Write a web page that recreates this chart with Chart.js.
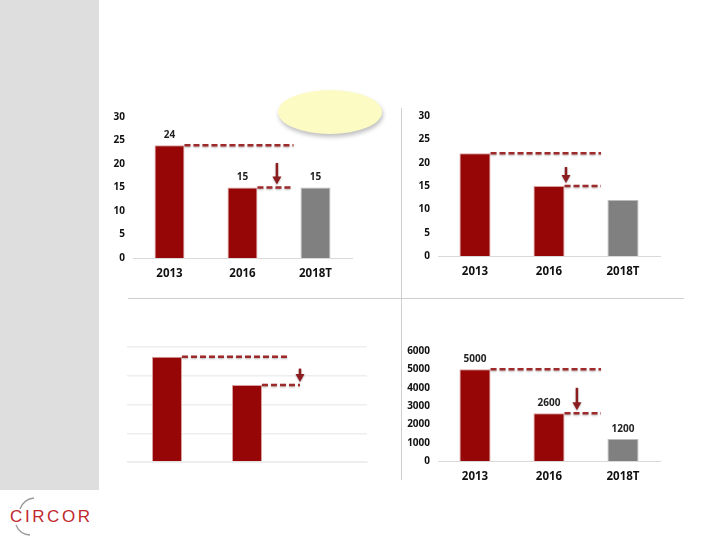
<!DOCTYPE html>
<html>
<head>
<meta charset="utf-8">
<script src="https://cdn.jsdelivr.net/npm/chart.js@4"></script>
<style>
  body { margin: 0; width: 720px; height: 540px; background: #fff; position: relative; overflow: hidden; font-family: "Open Sans", sans-serif; }
  #side { position: absolute; left: 0; top: 0; width: 99px; height: 490px; background: #dedede; }
  #oval { position: absolute; left: 278px; top: 90px; width: 104px; height: 44px; border-radius: 50%; background: #fdfbc4; box-shadow: 1px 3px 4px rgba(0,0,0,0.25); }
  .vline { position: absolute; left: 401px; top: 108px; width: 1px; height: 372px; background: #cfcfcf; }
  .hline { position: absolute; left: 128px; top: 298px; width: 556px; height: 1px; background: #cfcfcf; }
  canvas { position: absolute; }
  #logo { position: absolute; left: 8px; top: 494px; width: 92px; height: 44px; }
</style>
</head>
<body>
<div id="side"></div>
<div class="vline"></div>
<div class="hline"></div>
<canvas id="c1" width="270" height="190" style="left:95px;top:100px"></canvas>
<canvas id="c2" width="275" height="190" style="left:400px;top:100px"></canvas>
<canvas id="c3" width="280" height="160" style="left:100px;top:330px"></canvas>
<canvas id="c4" width="275" height="155" style="left:400px;top:335px"></canvas>
<div id="oval"></div>
<svg id="logo" viewBox="0 0 92 44">
  <path d="M26 4 A16 16 0 0 0 12 15" fill="none" stroke="#9a9a9a" stroke-width="1.3"/>
  <path d="M8 31 A16 16 0 0 0 22 41" fill="none" stroke="#9a9a9a" stroke-width="1.3"/>
  <text x="2" y="28" font-family="Liberation Sans, sans-serif" font-size="17" fill="#c0282d" letter-spacing="2.6">CIRCOR</text>
</svg>
<script>
const years = ['2013', '2016', '2018T'];
const valuesTopLeft = [24, 15, 15];
const valuesTopRight = [22, 15, 12];
const valuesBottomLeft = [18.3, 13.4, null];
const valuesBottomRight = [5000, 2600, 1200];

const RED = '#960606';
const GREY = '#808080';
const DASH = '#9e2a2b';

// dashed guide lines, down arrow and value labels drawn from the bar elements
const annot = {
  id: 'annot',
  afterDatasetsDraw(chart, args, opts) {
    const ctx = chart.ctx;
    const bars = chart.getDatasetMeta(0).data;
    const xs = chart.scales.x;
    const c2 = xs.getPixelForValue(2);
    ctx.save();
    // value labels
    if (opts.labels) {
      ctx.font = 'bold 10px "Open Sans"';
      ctx.fillStyle = '#222';
      ctx.textAlign = 'center';
      ctx.textBaseline = 'bottom';
      bars.forEach((b, i) => {
        const v = chart.data.datasets[0].data[i];
        if (v != null) ctx.fillText(String(v), b.x, b.y - 5);
      });
    }
    // dashed lines
    ctx.strokeStyle = DASH;
    ctx.lineWidth = 2.5;
    ctx.setLineDash([6, 3]);
    ctx.shadowColor = 'rgba(0,0,0,0.3)';
    ctx.shadowBlur = 2;
    ctx.shadowOffsetY = 1;
    const ends = [];
    [0, 1].forEach(i => {
      const b = bars[i];
      const end = c2 + opts.dashEnd[i];
      ends.push(end);
      ctx.beginPath();
      ctx.moveTo(b.x + b.width / 2, b.y);
      ctx.lineTo(end, b.y);
      ctx.stroke();
    });
    // arrow
    ctx.setLineDash([]);
    const r1 = bars[1].x + bars[1].width / 2;
    const ax = r1 + (ends[1] - r1) * opts.arrowFrac;
    const y0 = bars[0].y, y1 = bars[1].y;
    const top = y0 + (y1 - y0) * 0.42;
    const bot = y1 - 3;
    ctx.strokeStyle = '#8b1c1f';
    ctx.fillStyle = '#8b1c1f';
    ctx.lineWidth = 2.5;
    ctx.beginPath();
    ctx.moveTo(ax, top);
    ctx.lineTo(ax, bot - 7);
    ctx.stroke();
    ctx.beginPath();
    ctx.moveTo(ax - 4.5, bot - 8);
    ctx.lineTo(ax + 4.5, bot - 8);
    ctx.lineTo(ax, bot);
    ctx.closePath();
    ctx.fill();
    ctx.restore();
  }
};

function makeChart(id, values, o) {
  return new Chart(document.getElementById(id), {
    type: 'bar',
    data: {
      labels: years,
      datasets: [{
        data: values,
        backgroundColor: [RED, RED, GREY],
        borderColor: ['#d9a0a0', '#d9a0a0', '#bbbbbb'],
        borderWidth: 1,
        barPercentage: o.barPct,
        categoryPercentage: 1
      }]
    },
    options: {
      responsive: false,
      animation: false,
      layout: { padding: o.padding },
      plugins: {
        legend: { display: false },
        tooltip: { enabled: false },
        annot: { labels: o.labels, dashEnd: o.dashEnd, arrowFrac: o.arrowFrac }
      },
      scales: {
        x: {
          afterFit: s => { s.height = 25; },
          grid: { display: false, drawTicks: false },
          border: { color: o.hideTicks ? '#eeeeee' : '#d9d9d9', width: 1 },
          ticks: { display: !o.hideTicks, padding: 9, color: '#111', font: { family: 'Open Sans', weight: 'bold', size: 11.5 } }
        },
        y: {
          min: 0,
          max: o.max,
          afterFit: s => { s.width = o.yWidth; },
          grid: { display: !!o.hideTicks, color: '#eeeeee', lineWidth: 1.5, drawTicks: false },
          border: { display: false },
          ticks: {
            display: !o.hideTicks, stepSize: o.step, padding: 8, color: '#111',
            font: { family: 'Open Sans', weight: 'bold', size: 10 },
            callback: v => String(v)
          }
        }
      }
    },
    plugins: [annot]
  });
}

makeChart('c1', valuesTopLeft, {
  max: 30, step: 5, barPct: 0.41, yWidth: 30, labels: true,
  padding: { left: 8, right: 13, top: 17, bottom: 7 },
  dashEnd: [-22, -22], arrowFrac: 0.54
});
makeChart('c2', valuesTopRight, {
  max: 30, step: 5, barPct: 0.42, yWidth: 30, labels: false,
  padding: { left: 8, right: 15, top: 16, bottom: 9 },
  dashEnd: [-22, -22], arrowFrac: 0.04
});
makeChart('c3', valuesBottomLeft, {
  max: 20, step: 5, barPct: 0.375, yWidth: 0, labels: false, hideTicks: true,
  padding: { left: 27, right: 13, top: 17, bottom: 3 },
  dashEnd: [-40, -27], arrowFrac: 1
});
makeChart('c4', valuesBottomRight, {
  max: 6000, step: 1000, barPct: 0.42, yWidth: 36, labels: true,
  padding: { left: 2, right: 15, top: 16, bottom: 4 },
  dashEnd: [-22, -22], arrowFrac: 0.34
});
</script>
</body>
</html>
